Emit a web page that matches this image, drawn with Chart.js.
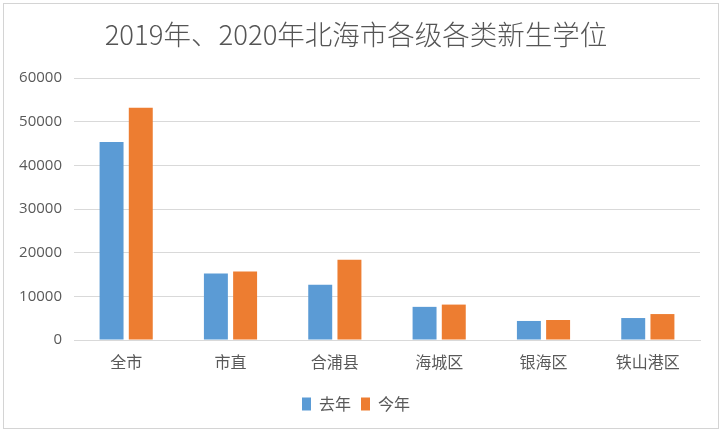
<!DOCTYPE html>
<html><head><meta charset="utf-8">
<script src="https://cdn.jsdelivr.net/npm/chart.js@4/dist/chart.umd.min.js"></script>
<style>
html,body{margin:0;padding:0;background:#fff;}
#frame{position:absolute;left:3px;top:3px;width:714px;height:424px;border:1px solid #d4d4d4;background:#fff;}
canvas{display:block;}
</style></head>
<body>
<div id="frame"><canvas id="c" width="714" height="424"></canvas></div>
<script>
const title = '2019年、2020年北海市各级各类新生学位';
const categories = ['全市', '市直', '合浦县', '海城区', '银海区', '铁山港区'];
const seriesNames = ['去年', '今年'];
const lastYear = [45360, 15240, 12640, 7590, 4360, 5030];
const thisYear = [53170, 15700, 18390, 8110, 4580, 5940];
const yTicks = [0, 10000, 20000, 30000, 40000, 50000, 60000];

const txt = '#595959';
const font = '"Noto Sans CJK SC", "Noto Sans", sans-serif';
new Chart(document.getElementById('c'), {
  type: 'bar',
  data: {
    labels: categories,
    datasets: [
      {label: seriesNames[0], data: lastYear, backgroundColor: '#5B9BD5', categoryPercentage: 0.56, barPercentage: 0.82},
      {label: seriesNames[1], data: thisYear, backgroundColor: '#ED7D31', categoryPercentage: 0.56, barPercentage: 0.82}
    ]
  },
  options: {
    responsive: false,
    animation: false,
    layout: {padding: {left: 8, right: 18, top: 0, bottom: 6}},
    plugins: {
      tooltip: {enabled: false},
      title: {display: true, text: title, color: '#555555', font: {family: font, size: 27.5, weight: 300, lineHeight: 1.2}, padding: {top: 14, bottom: 27}},
      legend: {position: 'bottom', labels: {color: txt, font: {family: font, size: 16}, boxWidth: 9, boxHeight: 13, padding: 10}}
    },
    scales: {
      x: {
        grid: {display: false, drawTicks: false},
        border: {display: true, color: '#d9d9d9'},
        ticks: {color: txt, font: {family: font, size: 16}, padding: 12},
        afterFit: s => { s.height = 46; }
      },
      y: {
        min: 0, max: 60000,
        afterBuildTicks: s => { s.ticks = yTicks.map(v => ({value: v})); },
        grid: {color: '#d9d9d9', drawTicks: false},
        border: {display: false},
        ticks: {color: txt, font: {family: '"Open Sans", "Noto Sans", sans-serif', size: 15}, padding: 12, callback: v => String(v)},
        afterFit: s => { s.width = 62; }
      }
    }
  }
});
</script>
</body></html>
